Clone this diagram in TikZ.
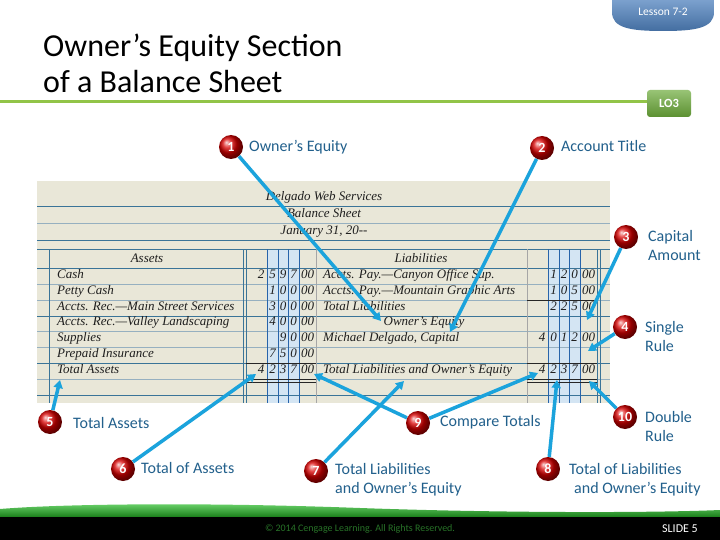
\documentclass[tikz,border=0pt]{standalone}
\usepackage{fontspec}
\setmainfont{Carlito}
\newfontfamily\sheetfont{Liberation Serif}
\usetikzlibrary{arrows.meta}
\definecolor{sheetbg}{RGB}{233,231,216}
\definecolor{ruledark}{RGB}{58,116,152}
\definecolor{rulelight}{RGB}{150,176,192}
\definecolor{bandblue}{RGB}{212,229,243}
\definecolor{colblue}{RGB}{40,100,170}
\definecolor{sheetink}{RGB}{30,30,30}
\definecolor{connblue}{RGB}{27,163,220}
\definecolor{labtext}{RGB}{34,96,140}
\definecolor{titleline}{RGB}{146,196,72}
\definecolor{lobadge}{RGB}{108,170,58}
\definecolor{lessonblue}{RGB}{79,129,189}
\definecolor{footgreen}{RGB}{25,125,25}
\definecolor{copytext}{RGB}{40,115,40}
\begin{document}
\begin{tikzpicture}[x=1pt,y=-1pt,
  sheettxt/.style={font=\sheetfont\itshape\fontsize{13}{14}\selectfont, text=sheetink, inner sep=0pt},
  dig/.style={sheettxt, anchor=mid},
  numc/.style={circle, minimum size=24pt, inner sep=0pt, ball color=red!85!black, text=white, font=\bfseries\fontsize{14}{14}\selectfont},
  lab/.style={anchor=west, align=left, text=labtext, inner sep=0pt, font=\fontsize{16}{19}\selectfont},
  conn/.style={draw=connblue, line width=3.5pt, -{Triangle[length=8pt,width=9pt]}},
  hl/.style={draw=rulelight, line width=0.6pt},
  hd/.style={draw=ruledark, line width=1pt},
  vb/.style={draw=colblue, line width=0.8pt},
  blk/.style={draw=black!85, line width=0.7pt}
]
\useasboundingbox (0,0) rectangle (720,540);
\fill[white] (0,0) rectangle (720,540);

% lesson badge
\shade[top color=lessonblue!75!white, bottom color=lessonblue!85!black]
  (612,0) -- (612,12) .. controls (612,28) and (630,31) .. (663,31)
  .. controls (696,31) and (714,28) .. (714,12) -- (714,0) -- cycle;
\node[font=\fontsize{11.5}{12}\selectfont, text=white] (lesson) at (663,12) {Lesson 7-2};

% title
\node[anchor=west, align=left, inner sep=0pt, font=\fontsize{32}{36}\selectfont] (title) at (43,63) {Owner’s Equity Section\\of a Balance Sheet};
\draw[titleline, line width=3pt] (0,102) -- (648,102);
\shade[rounded corners=3pt, top color=lobadge!70!white, bottom color=lobadge!85!black] (647,90) rectangle (691,117);
\node[text=white, font=\bfseries\fontsize{12.5}{13}\selectfont] (lo) at (669,103.5) {LO3};

% ---------- balance sheet ----------
\fill[sheetbg] (37,181) rectangle (610,403);
\fill[bandblue] (267,249) rectangle (299,403);
\fill[bandblue] (548,249) rectangle (580,403);
% header lines
\draw[hd] (37,207) -- (610,207);
\draw[hl] (37,223) -- (610,223);
\draw[hd] (37,240) -- (610,240);
\draw[hd] (37,249) -- (610,249);
% body lines
\foreach \yy in {284,300,331,347,379} {\draw[hl] (37,\yy) -- (610,\yy);}
\foreach \yy in {268,316,363,395} {\draw[hd] (37,\yy) -- (610,\yy);}
% vertical lines
\foreach \xx in {49,243,246,597,600} {\draw[hd] (\xx,249) -- (\xx,403);}
\foreach \xx in {267,278,288,299,548,559,569,580} {\draw[vb] (\xx,249) -- (\xx,403);}
\foreach \xx in {316,527} {\draw[draw=black!35, line width=0.6pt] (\xx,249) -- (\xx,403);}
% rules
\draw[blk] (246,363) -- (316,363);
\draw[blk] (527,300) -- (597,300);
\draw[blk] (527,363) -- (597,363);
\draw[blk] (246,379.5) -- (316,379.5);
\draw[blk] (246,382.5) -- (316,382.5);
\draw[blk] (527,379.5) -- (597,379.5);
\draw[blk] (527,382.5) -- (597,382.5);

% heading texts
\node[sheettxt, anchor=mid] (hco) at (324,198) {Delgado Web Services};
\node[sheettxt, anchor=mid] (hbs) at (324,215) {Balance Sheet};
\node[sheettxt, anchor=mid] (hdt) at (324,232) {January 31, 20--};
\node[sheettxt, anchor=mid] (has) at (147,260) {Assets};
\node[sheettxt, anchor=mid] (hli) at (421,260) {Liabilities};
% asset titles
\node[sheettxt, anchor=mid west] (a1) at (57,276) {Cash};
\node[sheettxt, anchor=mid west] (a2) at (57,292) {Petty Cash};
\node[sheettxt, anchor=mid west] (a3) at (57,308) {Accts. Rec.—Main Street Services};
\node[sheettxt, anchor=mid west] (a4) at (57,323.5) {Accts. Rec.—Valley Landscaping};
\node[sheettxt, anchor=mid west] (a5) at (57,339) {Supplies};
\node[sheettxt, anchor=mid west] (a6) at (57,355) {Prepaid Insurance};
\node[sheettxt, anchor=mid west] (a7) at (57,371) {Total Assets};
% liability titles
\node[sheettxt, anchor=mid west] (l1) at (323,276) {Accts. Pay.—Canyon Office Sup.};
\node[sheettxt, anchor=mid west] (l2) at (323,292) {Accts. Pay.—Mountain Graphic Arts};
\node[sheettxt, anchor=mid west] (l3) at (323,308) {Total Liabilities};
\node[sheettxt, anchor=mid] (l4) at (424,323.5) {Owner’s Equity};
\node[sheettxt, anchor=mid west] (l5) at (323,339) {Michael Delgado, Capital};
\node[sheettxt, anchor=mid west] (l7) at (323,371) {Total Liabilities and Owner’s Equity};

% asset amounts
\foreach \xx/\dd [count=\i] in {261/2,272.5/5,283/9,293.5/7,307.5/00} {\node[dig] (ar1-\i) at (\xx,276) {\dd};}
\foreach \xx/\dd [count=\i] in {272.5/1,283/0,293.5/0,307.5/00} {\node[dig] (ar2-\i) at (\xx,292) {\dd};}
\foreach \xx/\dd [count=\i] in {272.5/3,283/0,293.5/0,307.5/00} {\node[dig] (ar3-\i) at (\xx,308) {\dd};}
\foreach \xx/\dd [count=\i] in {272.5/4,283/0,293.5/0,307.5/00} {\node[dig] (ar4-\i) at (\xx,323.5) {\dd};}
\foreach \xx/\dd [count=\i] in {283/9,293.5/0,307.5/00} {\node[dig] (ar5-\i) at (\xx,339) {\dd};}
\foreach \xx/\dd [count=\i] in {272.5/7,283/5,293.5/0,307.5/00} {\node[dig] (ar6-\i) at (\xx,355) {\dd};}
\foreach \xx/\dd [count=\i] in {261/4,272.5/2,283/3,293.5/7,307.5/00} {\node[dig] (ar7-\i) at (\xx,371) {\dd};}
% liability amounts
\foreach \xx/\dd [count=\i] in {553.5/1,564/2,574.5/0,588.5/00} {\node[dig] (lr1-\i) at (\xx,276) {\dd};}
\foreach \xx/\dd [count=\i] in {553.5/1,564/0,574.5/5,588.5/00} {\node[dig] (lr2-\i) at (\xx,292) {\dd};}
\foreach \xx/\dd [count=\i] in {553.5/2,564/2,574.5/5,588.5/00} {\node[dig] (lr3-\i) at (\xx,308) {\dd};}
\foreach \xx/\dd [count=\i] in {542/4,553.5/0,564/1,574.5/2,588.5/00} {\node[dig] (lr5-\i) at (\xx,339) {\dd};}
\foreach \xx/\dd [count=\i] in {542/4,553.5/2,564/3,574.5/7,588.5/00} {\node[dig] (lr7-\i) at (\xx,371) {\dd};}

% ---------- callouts ----------
\coordinate (t1) at (381,321);
\coordinate (t2) at (450,332);
\coordinate (t3) at (587,320);
\coordinate (t4) at (588,351);
\coordinate (t5) at (60,380);
\coordinate (t6) at (256,374);
\coordinate (t7) at (404,381);
\coordinate (t8) at (557,380);
\coordinate (t9a) at (314,374);
\coordinate (t9b) at (538,373);
\coordinate (t10) at (589,381);

\node[numc] (n1) at (231,147) {1};
\node[numc] (n2) at (542,148) {2};
\node[numc] (n3) at (626,237) {3};
\node[numc] (n4) at (625,327) {4};
\node[numc] (n5) at (50,422) {5};
\node[numc] (n6) at (123,469) {6};
\node[numc] (n7) at (316,471) {7};
\node[numc] (n8) at (548,469) {8};
\node[numc] (n9) at (418,423) {9};
\node[numc] (n10) at (625,417) {10};

\draw[conn] (n1) -- (t1);
\draw[conn] (n2) -- (t2);
\draw[conn] (n3) -- (t3);
\draw[conn] (n4) -- (t4);
\draw[conn] (n5) -- (t5);
\draw[conn] (n6) -- (t6);
\draw[conn] (n7) -- (t7);
\draw[conn] (n8) -- (t8);
\draw[conn] (n9) -- (t9a);
\draw[conn] (n9) -- (t9b);
\draw[conn] (n10) -- (t10);

\node[lab] (c1) at (249,147) {Owner’s Equity};
\node[lab] (c2) at (561,146) {Account Title};
\node[lab] (c3) at (648,245.5) {Capital\\Amount};
\node[lab] (c4) at (645,336.5) {Single\\Rule};
\node[lab] (c10) at (645,426.5) {Double\\Rule};
\node[lab] (c5) at (73,423) {Total Assets};
\node[lab] (c6) at (141,468) {Total of Assets};
\node[lab] (c7) at (335,479.5) {Total Liabilities\\and Owner’s Equity};
\node[lab] (c8) at (569,479.5) {Total of Liabilities\\\hspace*{5pt}and Owner’s Equity};
\node[lab] (c9) at (440,422) {Compare Totals};

% ---------- footer ----------
\shade[top color=green!75!black!55!white, bottom color=footgreen]
  (0,517) -- (0,509) .. controls (60,504) and (200,502) .. (360,508)
  .. controls (500,513) and (650,513) .. (720,510) -- (720,517) -- cycle;
\fill[black] (0,517) rectangle (720,540);
\node[text=copytext, font=\fontsize{10}{11}\selectfont] (copy) at (360,529) {© 2014 Cengage Learning. All Rights Reserved.};
\node[text=white, font=\fontsize{12}{12}\selectfont] (slide) at (680,529) {SLIDE 5};
\end{tikzpicture}
\end{document}
